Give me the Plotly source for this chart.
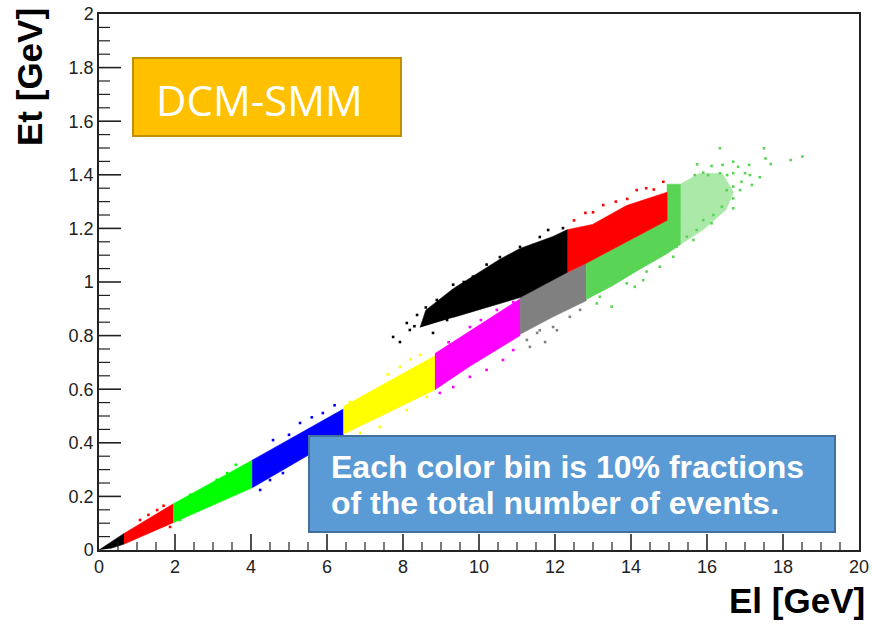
import plotly.graph_objects as go

# ---- El / Et event-density bands (outline of each 10 % colour bin) ----
black_low_x = [0.0, 0.66, 0.66, 0.30]
black_low_y = [0.0, 0.062, 0.022, 0.006]

red_low_x = [0.66, 1.95, 1.95, 0.66]
red_low_y = [0.062, 0.172, 0.102, 0.022]

green_low_x = [1.95, 4.03, 4.03, 1.95]
green_low_y = [0.172, 0.335, 0.232, 0.102]

blue_x = [4.03, 6.43, 6.43, 4.03]
blue_y = [0.335, 0.526, 0.430, 0.232]

yellow_x = [6.43, 8.84, 8.84, 6.43]
yellow_y = [0.535, 0.725, 0.598, 0.432]

magenta_x = [8.84, 11.08, 11.08, 9.76, 8.84]
magenta_y = [0.733, 0.937, 0.800, 0.686, 0.598]

gray_x = [11.08, 12.32, 12.82, 12.82, 11.95, 11.08]
gray_y = [0.942, 1.032, 1.070, 0.930, 0.870, 0.805]

green_hi_x = [12.82, 14.95, 14.95, 15.30, 15.30, 14.94, 14.20, 13.50, 12.82]
green_hi_y = [1.070, 1.230, 1.365, 1.365, 1.140, 1.105, 1.045, 0.985, 0.935]

green_tail_x = [15.30, 15.80, 16.40, 16.70, 16.50, 15.90, 15.30]
green_tail_y = [1.365, 1.405, 1.405, 1.335, 1.270, 1.195, 1.140]

red_hi_x = [12.32, 12.82, 14.95, 14.95, 13.88, 12.99, 12.32]
red_hi_y = [1.035, 1.070, 1.230, 1.335, 1.285, 1.215, 1.195]

black_hi_x = [8.45, 8.60, 9.32, 10.20, 10.55, 11.08, 11.95, 12.32, 12.32, 11.08, 10.20, 9.32]
black_hi_y = [0.830, 0.895, 0.975, 1.055, 1.085, 1.125, 1.170, 1.195, 1.035, 0.942, 0.905, 0.868]

# ---- isolated events along the band edges ----
red_low_pts_x = [1.08, 1.87, 1.53, 1.30, 1.70]
red_low_pts_y = [0.112, 0.086, 0.149, 0.131, 0.165]

green_low_pts_x = [2.66, 3.37, 3.79, 2.13, 2.92, 3.79, 2.40, 3.10, 3.60]
green_low_pts_y = [0.213, 0.287, 0.299, 0.112, 0.175, 0.224, 0.206, 0.262, 0.318]

blue_pts_x = [4.58, 5.29, 5.89, 4.50, 4.84, 4.24, 5.00, 5.60, 6.20]
blue_pts_y = [0.410, 0.474, 0.511, 0.261, 0.287, 0.224, 0.430, 0.495, 0.540]

yellow_pts_x = [6.60, 7.21, 7.92, 8.45, 7.39, 8.10, 8.63, 6.87, 7.60, 8.20]
yellow_pts_y = [0.552, 0.586, 0.683, 0.728, 0.459, 0.522, 0.571, 0.437, 0.655, 0.712]

magenta_pts_x = [8.97, 9.32, 9.76, 10.20, 10.63, 10.90, 9.76, 10.47, 10.90, 9.20, 10.05]
magenta_pts_y = [0.586, 0.608, 0.646, 0.672, 0.709, 0.746, 0.832, 0.896, 0.925, 0.775, 0.858]

gray_pts_x = [11.26, 11.53, 11.95, 12.39, 12.66, 11.34, 11.60, 11.74, 12.05]
gray_pts_y = [0.784, 0.810, 0.832, 0.870, 0.896, 0.758, 0.820, 0.776, 0.820]

red_hi_pts_x = [12.80, 13.27, 14.15, 14.85, 13.60, 14.40, 12.50, 14.60, 13.00, 13.90]
red_hi_pts_y = [1.258, 1.287, 1.343, 1.374, 1.300, 1.350, 1.230, 1.345, 1.260, 1.310]

black_hi_pts_x = [7.74, 7.92, 8.10, 8.37, 8.18, 8.89, 9.32, 9.84, 10.55, 11.08,
                  11.60, 11.82, 12.21, 8.79, 9.16, 8.30, 8.60, 9.60, 10.20]
black_hi_pts_y = [0.795, 0.776, 0.847, 0.877, 0.821, 0.933, 0.990, 1.020, 1.093, 1.131,
                  1.168, 1.194, 1.201, 0.810, 0.858, 0.835, 0.905, 1.000, 1.065]

green_hi_pts_x = [16.34, 17.50, 17.54, 17.68, 18.20, 18.51, 15.74, 16.12, 16.41, 16.69,
                  16.82, 17.11, 17.00, 17.13, 17.39, 16.69, 16.53, 16.34, 16.03, 15.90,
                  15.68, 16.91, 17.18, 16.69, 16.87, 16.52, 16.69, 16.39, 16.69, 16.17,
                  15.90, 16.12, 15.73, 15.47, 15.64, 15.20, 15.11, 14.76, 14.41, 14.32,
                  14.10, 13.89, 13.49, 13.18, 13.10]
green_hi_pts_y = [1.499, 1.499, 1.461, 1.440, 1.455, 1.468, 1.439, 1.433, 1.437, 1.449,
                  1.430, 1.437, 1.406, 1.399, 1.391, 1.406, 1.399, 1.406, 1.399, 1.408,
                  1.399, 1.374, 1.362, 1.356, 1.343, 1.343, 1.312, 1.281, 1.275, 1.250,
                  1.231, 1.219, 1.194, 1.169, 1.157, 1.132, 1.094, 1.057, 1.039, 1.007,
                  0.982, 0.995, 0.908, 0.945, 0.920]

# ---- axis tick positions ----
X_RANGE = [0, 20]
Y_RANGE = [0, 2]
x_major = [2, 4, 6, 8, 10, 12, 14, 16, 18]
x_minor = [k * 0.5 for k in range(1, 40) if k % 4]
y_major = [0.2, 0.4, 0.6, 0.8, 1.0, 1.2, 1.4, 1.6, 1.8]
y_minor = [k * 0.05 for k in range(1, 40) if k % 4]

BLACK, RED, GREEN, BLUE = "#000000", "#ff0000", "#00ff00", "#0000ff"
YELLOW, MAGENTA, GRAY, GREEN8 = "#ffff00", "#ff00ff", "#808080", "#59d454"
AXIS = "#222222"

W, H = 872, 627
L, R, T, B = 99, 13, 14, 77
PW, PH = W - L - R, H - T - B
X_PER_PX = (X_RANGE[1] - X_RANGE[0]) / PW
Y_PER_PX = (Y_RANGE[1] - Y_RANGE[0]) / PH

fig = go.Figure()


def band(x, y, color, opacity=1.0):
    fig.add_trace(go.Scatter(x=x, y=y, mode="lines", fill="toself",
                             fillcolor=color, opacity=opacity,
                             line=dict(width=0.6, color=color),
                             hoverinfo="skip", showlegend=False))


def dots(x, y, color):
    fig.add_trace(go.Scatter(x=x, y=y, mode="markers",
                             marker=dict(symbol="square", size=2.6, color=color,
                                         line=dict(width=0)),
                             hoverinfo="skip", showlegend=False))


def tick_marks(values, length_px, vertical, width):
    # short inward strokes from the bottom / left frame edge
    xs, ys = [], []
    for v in values:
        if vertical:
            xs += [v, v, None]
            ys += [Y_RANGE[0], Y_RANGE[0] + length_px * Y_PER_PX, None]
        else:
            xs += [X_RANGE[0], X_RANGE[0] + length_px * X_PER_PX, None]
            ys += [v, v, None]
    fig.add_trace(go.Scatter(x=xs, y=ys, mode="lines",
                             line=dict(color=AXIS, width=width),
                             hoverinfo="skip", showlegend=False, cliponaxis=False))


band(black_low_x, black_low_y, BLACK)
band(red_low_x, red_low_y, RED)
band(green_low_x, green_low_y, GREEN)
band(blue_x, blue_y, BLUE)
band(yellow_x, yellow_y, YELLOW)
band(magenta_x, magenta_y, MAGENTA)
band(gray_x, gray_y, GRAY)
band(green_tail_x, green_tail_y, GREEN8, opacity=0.5)
band(green_hi_x, green_hi_y, GREEN8)
band(red_hi_x, red_hi_y, RED)
band(black_hi_x, black_hi_y, BLACK)

dots(red_low_pts_x, red_low_pts_y, RED)
dots(green_low_pts_x, green_low_pts_y, GREEN)
dots(blue_pts_x, blue_pts_y, BLUE)
dots(yellow_pts_x, yellow_pts_y, YELLOW)
dots(magenta_pts_x, magenta_pts_y, MAGENTA)
dots(gray_pts_x, gray_pts_y, GRAY)
dots(green_hi_pts_x, green_hi_pts_y, GREEN8)
dots(red_hi_pts_x, red_hi_pts_y, RED)
dots(black_hi_pts_x, black_hi_pts_y, BLACK)

tick_marks(x_major, 16, True, 1.6)
tick_marks(x_minor, 8, True, 1.2)
tick_marks(y_major, 22, False, 1.6)
tick_marks(y_minor, 11, False, 1.2)

TICKFONT = dict(family="Liberation Sans, Arial, sans-serif", size=18, color="#222222")


def px(xp):
    return (xp - L) / PW


def py(yp):
    return (H - B - yp) / PH


fig.update_xaxes(range=X_RANGE, dtick=2, tick0=0, ticks="", showline=True,
                 linecolor=AXIS, linewidth=1.5, mirror=True, showgrid=False,
                 zeroline=False, automargin=False, tickfont=TICKFONT)
fig.update_yaxes(range=Y_RANGE, dtick=0.2, tick0=0, ticks="", showline=True,
                 linecolor=AXIS, linewidth=1.5, mirror=True, showgrid=False,
                 zeroline=False, automargin=False, tickfont=TICKFONT)

fig.update_layout(
    width=W, height=H,
    margin=dict(l=L, r=R, t=T, b=B, pad=0, autoexpand=False),
    plot_bgcolor="white", paper_bgcolor="white",
    shapes=[
        dict(type="rect", xref="paper", yref="paper",
             x0=px(133), x1=px(401), y0=py(136), y1=py(58),
             fillcolor="#ffc000", line=dict(color="#bf9000", width=2)),
        dict(type="rect", xref="paper", yref="paper",
             x0=px(309), x1=px(835), y0=py(532), y1=py(436),
             fillcolor="#5b9bd5", line=dict(color="#41719c", width=2)),
    ],
    annotations=[
        dict(text="<b>Et [GeV]</b>", xref="paper", yref="paper",
             x=px(30), y=py(77), textangle=-90, showarrow=False,
             xanchor="center", yanchor="middle",
             font=dict(family="Liberation Sans, Arial, sans-serif", size=35, color="black")),
        dict(text="<b>El [GeV]</b>", xref="paper", yref="paper",
             x=px(867), y=py(600), showarrow=False,
             xanchor="right", yanchor="middle",
             font=dict(family="Liberation Sans, Arial, sans-serif", size=35, color="black")),
        dict(text="DCM-SMM", xref="paper", yref="paper",
             x=px(259), y=py(100), showarrow=False,
             xanchor="center", yanchor="middle",
             font=dict(family="Open Sans, sans-serif", size=42, color="white")),
        dict(text="<b>Each color bin is 10% fractions</b>", xref="paper", yref="paper",
             x=px(329), y=py(467), showarrow=False,
             xanchor="left", yanchor="middle",
             font=dict(family="Liberation Sans, Arial, sans-serif", size=32, color="white")),
        dict(text="<b>of the total number of events.</b>", xref="paper", yref="paper",
             x=px(329), y=py(503), showarrow=False,
             xanchor="left", yanchor="middle",
             font=dict(family="Liberation Sans, Arial, sans-serif", size=32, color="white")),
    ],
)

fig.write_html("out.html")
